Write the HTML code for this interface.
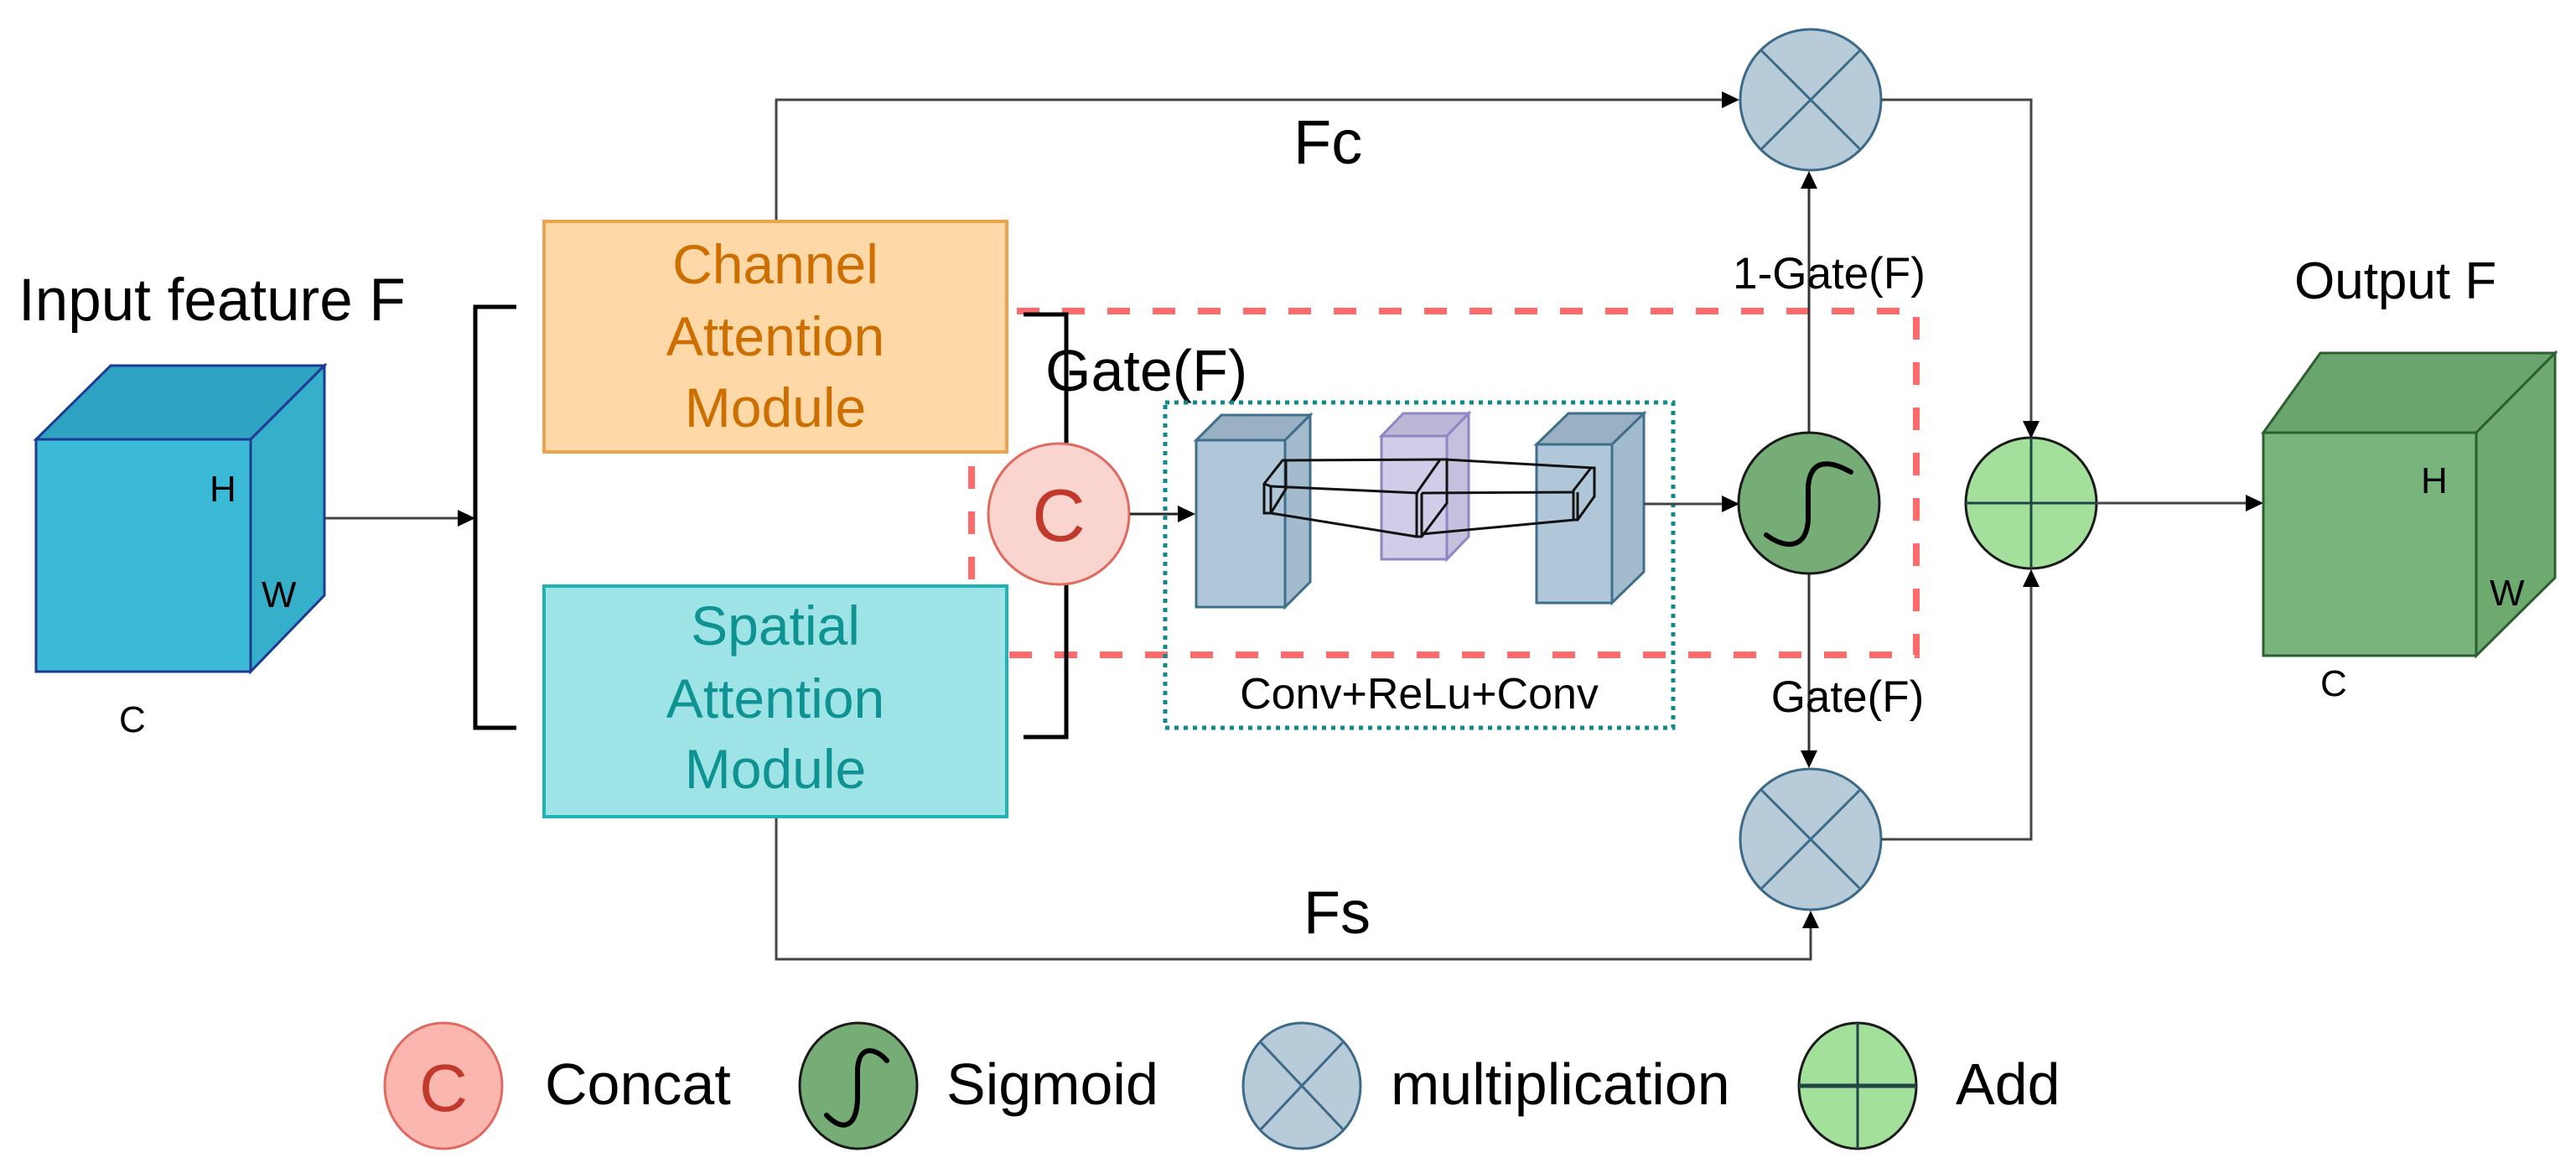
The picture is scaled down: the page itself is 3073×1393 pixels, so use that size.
<!DOCTYPE html>
<html><head><meta charset="utf-8"><style>
html,body{margin:0;padding:0;background:#fff;}
svg{display:block;}
text{font-family:"Liberation Sans",Arial,sans-serif;}
</style></head><body>
<svg width="3073" height="1393" viewBox="0 0 3073 1393" xmlns="http://www.w3.org/2000/svg">
<rect width="3073" height="1393" fill="#fff"/>

<!-- Input cube -->
<polygon points="43,524 132,436 387,436 299,524" fill="#2ea3c2" stroke="#1f3a93" stroke-width="3"/>
<polygon points="299,524 387,436 387,710 299,801" fill="#35afca" stroke="#1f3a93" stroke-width="3"/>
<rect x="43" y="524" width="256" height="277" fill="#3bbad8" stroke="#1f3a93" stroke-width="3"/>
<text x="250" y="598" font-size="44">H</text>
<text x="312" y="724" font-size="44">W</text>
<text x="142" y="873" font-size="44">C</text>
<text x="22" y="382" font-size="71">Input feature F</text>

<line x1="388" y1="618" x2="552" y2="618" stroke="#444" stroke-width="3"/>
<polygon points="567,618 546,608 546,628" fill="#000"/>
<polyline points="616,366 567,366 567,868 616,868" fill="none" stroke="#000" stroke-width="5"/>

<polyline points="926,264 926,119 2060,119" fill="none" stroke="#444" stroke-width="3"/>
<polygon points="2075,119 2054,109 2054,129" fill="#000"/>
<polyline points="926,974 926,1144 2160,1144 2160,1100" fill="none" stroke="#444" stroke-width="3"/>
<polygon points="2160,1086 2150,1107 2170,1107" fill="#000"/>

<rect x="1159" y="371" width="1127" height="410" fill="none" stroke="#ff6b6b" stroke-width="8" stroke-dasharray="27,27"/>

<rect x="649" y="264" width="552" height="275" fill="#ffd8a8" stroke="#eba350" stroke-width="4"/>
<text x="925" y="338" font-size="66" fill="#cc6f00" text-anchor="middle">Channel</text>
<text x="925" y="424" font-size="66" fill="#cc6f00" text-anchor="middle">Attention</text>
<text x="925" y="509" font-size="66" fill="#cc6f00" text-anchor="middle">Module</text>
<rect x="649" y="699" width="552" height="275" fill="#9ee4e6" stroke="#20b3b3" stroke-width="4"/>
<text x="925" y="769" font-size="66" fill="#0e9292" text-anchor="middle">Spatial</text>
<text x="925" y="856" font-size="66" fill="#0e9292" text-anchor="middle">Attention</text>
<text x="925" y="940" font-size="66" fill="#0e9292" text-anchor="middle">Module</text>

<polyline points="1221,375 1272,375 1272,879 1221,879" fill="none" stroke="#000" stroke-width="5"/>
<text x="1247" y="466" font-size="70">Gate(F)</text>

<circle cx="1263" cy="613" r="84" fill="#fad4cf" stroke="#e06a60" stroke-width="3"/>
<text x="1263" y="645" font-size="88" fill="#c0392b" text-anchor="middle">C</text>
<line x1="1348" y1="613" x2="1410" y2="613" stroke="#222" stroke-width="3"/>
<polygon points="1426,613 1405,603 1405,623" fill="#000"/>

<rect x="1390" y="480" width="606" height="388" fill="none" stroke="#0e8a8a" stroke-width="5" stroke-dasharray="5,6"/>
<text x="1693" y="845" font-size="52" text-anchor="middle">Conv+ReLu+Conv</text>

<g stroke="#3f6f8a" stroke-width="3">
<polygon points="1427,525 1457,495 1563,495 1533,525" fill="#99b1c2"/>
<polygon points="1533,525 1563,495 1563,694 1533,724" fill="#a3bccd"/>
<rect x="1427" y="525" width="106" height="199" fill="#afc7d8"/>
</g>
<g stroke="#8f86c4" stroke-width="3">
<polygon points="1648,520 1674,493 1752,493 1726,520" fill="#bcb7d6"/>
<polygon points="1726,520 1752,493 1752,640 1726,667" fill="#c4c0de"/>
<rect x="1648" y="520" width="78" height="147" fill="#ccc8e6" fill-opacity="0.9"/>
</g>
<g stroke="#3f6f8a" stroke-width="3">
<polygon points="1833,530 1871,493 1961,493 1923,530" fill="#99b1c2"/>
<polygon points="1923,530 1961,493 1961,682 1923,719" fill="#a3bccd"/>
<rect x="1833" y="530" width="90" height="189" fill="#afc7d8"/>
</g>
<g stroke="#111" stroke-width="3" fill="none">
<polygon points="1508,577 1530,549 1534,549 1534,583 1516,612 1508,612"/>
<line x1="1516" y1="580" x2="1516" y2="612"/>
<line x1="1508" y1="577" x2="1516" y2="580"/>
<line x1="1530" y1="549" x2="1724" y2="548"/>
<line x1="1516" y1="580" x2="1692" y2="588"/>
<line x1="1516" y1="612" x2="1690" y2="640"/>
<polygon points="1690,588 1718,548 1726,548 1726,600 1696,640 1690,640"/>
<line x1="1696" y1="588" x2="1696" y2="640"/>
<line x1="1724" y1="548" x2="1900" y2="558"/>
<line x1="1696" y1="588" x2="1878" y2="587"/>
<line x1="1696" y1="637" x2="1878" y2="620"/>
<polygon points="1877,585 1898,558 1902,558 1902,592 1882,620 1877,620"/>
<line x1="1882" y1="587" x2="1882" y2="620"/>
</g>

<line x1="1961" y1="601" x2="2060" y2="601" stroke="#444" stroke-width="3"/>
<polygon points="2075,601 2054,591 2054,611" fill="#000"/>

<line x1="2158" y1="516" x2="2158" y2="220" stroke="#333" stroke-width="3"/>
<polygon points="2158,204 2148,225 2168,225" fill="#000"/>
<line x1="2158" y1="685" x2="2158" y2="900" stroke="#333" stroke-width="3"/>
<polygon points="2158,916 2148,895 2168,895" fill="#000"/>
<text x="2182" y="344" font-size="53" text-anchor="middle">1-Gate(F)</text>
<text x="2204" y="849" font-size="53" text-anchor="middle">Gate(F)</text>

<circle cx="2158" cy="600" r="84" fill="#76ad76" stroke="#1a1a1a" stroke-width="3"/>
<path d="M2107,638 C2130,655 2155,655 2157,620 L2157,580 C2160,545 2185,550 2208,563" fill="none" stroke="#000" stroke-width="6" stroke-linecap="round"/>

<circle cx="2160" cy="119" r="84" fill="#b8cbd8" stroke="#3d6a88" stroke-width="3"/>
<g stroke="#3d6a88" stroke-width="3"><line x1="2101" y1="60" x2="2219" y2="178"/><line x1="2219" y1="60" x2="2101" y2="178"/></g>
<circle cx="2160" cy="1001" r="84" fill="#b8cbd8" stroke="#3d6a88" stroke-width="3"/>
<g stroke="#3d6a88" stroke-width="3"><line x1="2101" y1="942" x2="2219" y2="1060"/><line x1="2219" y1="942" x2="2101" y2="1060"/></g>

<polyline points="2244,119 2423,119 2423,508" fill="none" stroke="#444" stroke-width="3"/>
<polygon points="2423,523 2413,502 2433,502" fill="#000"/>
<polyline points="2244,1001 2423,1001 2423,694" fill="none" stroke="#444" stroke-width="3"/>
<polygon points="2423,679 2413,700 2433,700" fill="#000"/>

<circle cx="2423" cy="600" r="78" fill="#a3e09c" stroke="#1a1a1a" stroke-width="3"/>
<line x1="2345" y1="600" x2="2501" y2="600" stroke="#244" stroke-width="3"/>
<line x1="2423" y1="522" x2="2423" y2="678" stroke="#244" stroke-width="3"/>

<line x1="2501" y1="600" x2="2685" y2="600" stroke="#444" stroke-width="3"/>
<polygon points="2700,600 2679,590 2679,610" fill="#000"/>

<polygon points="2700,516 2768,421 3048,421 2954,516" fill="#6ba56e" stroke="#2d5e30" stroke-width="3"/>
<polygon points="2954,516 3048,421 3048,689 2954,782" fill="#6eaa70" stroke="#2d5e30" stroke-width="3"/>
<rect x="2700" y="516" width="254" height="266" fill="#78b47b" stroke="#2d5e30" stroke-width="3"/>
<text x="2888" y="588" font-size="44">H</text>
<text x="2970" y="722" font-size="44">W</text>
<text x="2768" y="830" font-size="44">C</text>
<text x="2737" y="356" font-size="62">Output F</text>

<text x="1543" y="195" font-size="74">Fc</text>
<text x="1555" y="1113" font-size="72">Fs</text>

<ellipse cx="529" cy="1295" rx="70" ry="75" fill="#fbb6b0" stroke="#e06a60" stroke-width="3"/>
<text x="529" y="1325" font-size="80" fill="#c0392b" text-anchor="middle">C</text>
<text x="650" y="1317" font-size="70">Concat</text>
<ellipse cx="1024" cy="1295" rx="70" ry="75" fill="#76ad76" stroke="#1a1a1a" stroke-width="3"/>
<path d="M986,1330 C1005,1350 1022,1345 1023,1310 L1023,1275 C1025,1245 1045,1250 1058,1265" fill="none" stroke="#000" stroke-width="6" stroke-linecap="round"/>
<text x="1129" y="1317" font-size="70">Sigmoid</text>
<ellipse cx="1553" cy="1295" rx="70" ry="75" fill="#b8cbd8" stroke="#3d6a88" stroke-width="3"/>
<g stroke="#3d6a88" stroke-width="3"><line x1="1503" y1="1242" x2="1603" y2="1348"/><line x1="1603" y1="1242" x2="1503" y2="1348"/></g>
<text x="1659" y="1317" font-size="70">multiplication</text>
<ellipse cx="2216" cy="1295" rx="70" ry="75" fill="#a3e09c" stroke="#1a1a1a" stroke-width="3"/>
<line x1="2146" y1="1295" x2="2286" y2="1295" stroke="#244" stroke-width="5"/>
<line x1="2216" y1="1220" x2="2216" y2="1370" stroke="#244" stroke-width="3"/>
<text x="2333" y="1317" font-size="70">Add</text>
</svg>
</body></html>
